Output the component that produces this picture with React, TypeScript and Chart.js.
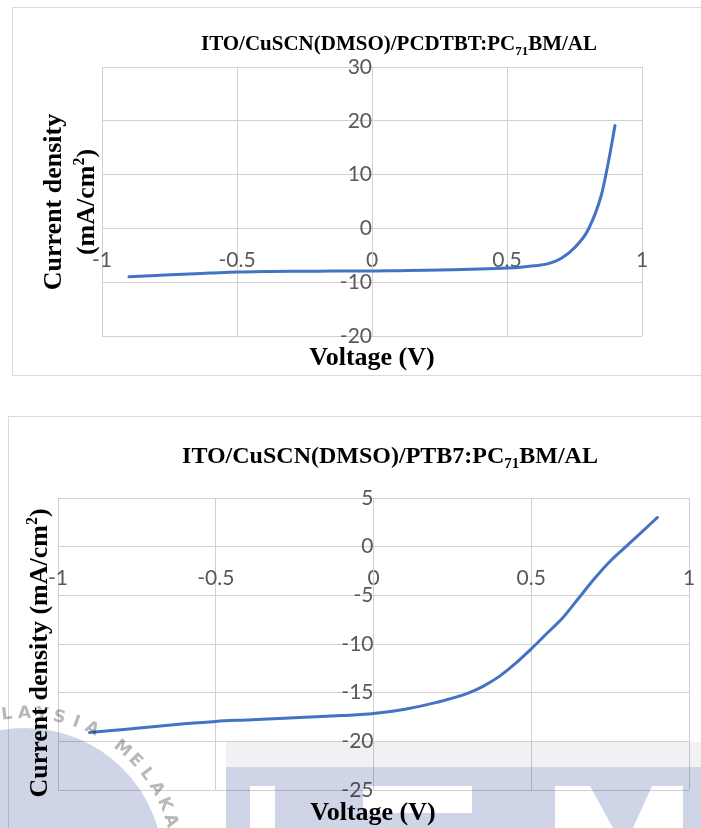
import React, { useEffect, useRef } from "react";
import { Chart, registerables } from "chart.js";

Chart.register(...registerables);

// J–V sweep of ITO/CuSCN(DMSO)/PCDTBT:PC71BM/Al (V, mA/cm²)
const voltagePcdtbt = [-0.9, -0.8, -0.7, -0.6, -0.5, -0.4, -0.3, -0.2, -0.1, 0, 0.1, 0.2, 0.3, 0.4, 0.5, 0.55, 0.6, 0.65, 0.7, 0.75, 0.8, 0.85, 0.875, 0.9];
const currentPcdtbt = [-9.0, -8.75, -8.5, -8.3, -8.1, -8.0, -7.95, -7.95, -7.9, -7.9, -7.85, -7.8, -7.7, -7.55, -7.35, -7.2, -6.95, -6.6, -5.6, -3.6, -0.3, 6.3, 12.2, 19.1];

// J–V sweep of ITO/CuSCN(DMSO)/PTB7:PC71BM/Al (V, mA/cm²)
const voltagePtb7 = [-0.9, -0.8, -0.7, -0.6, -0.5, -0.4, -0.3, -0.2, -0.1, 0, 0.1, 0.2, 0.3, 0.35, 0.4, 0.45, 0.5, 0.55, 0.6, 0.65, 0.7, 0.75, 0.8, 0.85, 0.9];
const currentPtb7 = [-19.1, -18.8, -18.5, -18.2, -17.95, -17.8, -17.65, -17.5, -17.35, -17.15, -16.7, -16.0, -15.05, -14.3, -13.3, -12.0, -10.5, -8.9, -7.3, -5.3, -3.3, -1.5, 0.0, 1.5, 3.0];

const voltageTicks = [-1, -0.5, 0, 0.5, 1];
const currentTicksPcdtbt = [-20, -10, 0, 10, 20, 30];
const currentTicksPtb7 = [-25, -20, -15, -10, -5, 0, 5];

const SERIF = '"Liberation Serif", "Times New Roman", serif';
const TICK_FONT = "Lato";
const LINE_BLUE = "#4472C4";
const GRID = "#d0d0d0";
const FRAME = "#d9d9d9";
const TICK_GREY = "#595959";
const LOGO_BLUE = "#cfd5e6";

type Seg = { text: string; size: number; dy?: number };
type Label = { segs: Seg[]; x: number; y: number; vertical?: boolean };

// Draws a run of bold serif text (with sub/superscripts) centred on (x, y).
function drawRich(ctx: CanvasRenderingContext2D, segs: Seg[], x: number, y: number, vertical = false) {
  ctx.save();
  ctx.translate(x, y);
  if (vertical) ctx.rotate(-Math.PI / 2);
  ctx.fillStyle = "#000";
  ctx.textAlign = "left";
  ctx.textBaseline = "alphabetic";
  const fonts = segs.map((s) => `bold ${s.size}px ${SERIF}`);
  const widths = segs.map((s, i) => {
    ctx.font = fonts[i];
    return ctx.measureText(s.text).width;
  });
  let cx = -widths.reduce((a, b) => a + b, 0) / 2;
  segs.forEach((s, i) => {
    ctx.font = fonts[i];
    ctx.fillText(s.text, cx, s.dy ?? 0);
    cx += widths[i];
  });
  ctx.restore();
}

interface PanelProps {
  left: number;
  top: number;
  boxHeight: number;
  width: number;
  height: number;
  padding: { left: number; top: number; right: number; bottom: number };
  voltages: number[];
  currents: number[];
  yTicks: number[];
  labels: Label[];
}

function JVPanel({ left, top, boxHeight, width, height, padding, voltages, currents, yTicks, labels }: PanelProps) {
  const ref = useRef<HTMLCanvasElement>(null);

  useEffect(() => {
    const canvas = ref.current;
    if (!canvas) return;

    const textPlugin = {
      id: "jvText",
      afterDraw(chart: Chart) {
        labels.forEach((l) => drawRich(chart.ctx, l.segs, l.x, l.y, l.vertical));
      },
    };

    const tickStyle = {
      color: TICK_GREY,
      font: { family: TICK_FONT, size: 21 },
      autoSkip: false,
      maxRotation: 0,
      callback: (v: number | string) => String(v),
    };

    const chart = new Chart(canvas, {
      type: "scatter",
      data: {
        datasets: [
          {
            data: voltages.map((v, i) => ({ x: v, y: currents[i] })),
            showLine: true,
            borderColor: LINE_BLUE,
            backgroundColor: LINE_BLUE,
            borderWidth: 3,
            borderCapStyle: "round",
            borderJoinStyle: "round",
            pointRadius: 0,
            cubicInterpolationMode: "monotone",
            fill: false,
          },
        ],
      },
      options: {
        animation: false,
        responsive: false,
        devicePixelRatio: 1,
        layout: { padding },
        plugins: {
          legend: { display: false },
          tooltip: { enabled: false },
          title: { display: false },
        },
        scales: {
          x: {
            type: "linear",
            position: { y: 0 },
            min: voltageTicks[0],
            max: voltageTicks[voltageTicks.length - 1],
            afterBuildTicks: (s: any) => {
              s.ticks = voltageTicks.map((value) => ({ value }));
            },
            // axis crosses inside the plot, so it takes no room of its own
            afterFit: (s: any) => {
              s.height = 0;
              s.paddingLeft = 0;
              s.paddingRight = 0;
            },
            grid: { color: GRID, lineWidth: 1, drawTicks: false },
            border: { color: GRID, width: 1 },
            ticks: { ...tickStyle, padding: 19 },
          },
          y: {
            type: "linear",
            position: { x: 0 },
            min: yTicks[0],
            max: yTicks[yTicks.length - 1],
            afterBuildTicks: (s: any) => {
              s.ticks = yTicks.map((value) => ({ value }));
            },
            afterFit: (s: any) => {
              s.width = 0;
              s.paddingTop = 0;
              s.paddingBottom = 0;
            },
            grid: { color: GRID, lineWidth: 1, drawTicks: false },
            border: { color: GRID, width: 1 },
            ticks: { ...tickStyle, padding: 20 },
          },
        },
      } as any,
      plugins: [textPlugin],
    });

    return () => chart.destroy();
  }, []);

  return (
    <div
      style={{
        position: "absolute",
        left,
        top,
        width: 760,
        height: boxHeight,
        border: `1px solid ${FRAME}`,
        boxSizing: "border-box",
        background: "#fff",
      }}
    >
      <canvas ref={ref} width={width} height={height} style={{ display: "block" }} />
    </div>
  );
}

// Letters around the ring of the university seal, with their angle from the top.
const sealLetters: [string, number][] = [
  ["M", -20], ["A", -13.4], ["L", -6.8], ["A", -0.2], ["Y", 6.4], ["S", 13], ["I", 19.6], ["A", 26],
  ["M", 39.7], ["E", 46.3], ["L", 52.9], ["A", 59.5], ["K", 66.1], ["A", 72.7],
];

function Seal() {
  const cx = 25;
  const cy = 866;
  return (
    <svg
      width={701}
      height={828}
      style={{ position: "absolute", left: 0, top: 0, mixBlendMode: "multiply", pointerEvents: "none" }}
    >
      <circle cx={cx} cy={cy} r={138} fill={LOGO_BLUE} />
      {sealLetters.map(([ch, a], i) => (
        <text
          key={i}
          x={cx}
          y={cy - 153}
          transform={`rotate(${a} ${cx} ${cy})`}
          textAnchor="middle"
          dominantBaseline="middle"
          fontFamily="DejaVu Sans"
          fontWeight="bold"
          fontSize={17}
          fill="#b8b8b8"
        >
          {ch}
        </text>
      ))}
      <rect x={226} y={742} width={475} height={25} fill="#f1f1f3" />
      <path
        d="M226 767 H701 V828 H226 Z M250 786 H275 V828 H250 Z M363 786 H472 V813 H363 Z M555 786 H683 V828 H555 Z"
        fill={LOGO_BLUE}
        fillRule="evenodd"
      />
      <path d="M590 786 H652 L633 828 H613 Z" fill={LOGO_BLUE} />
    </svg>
  );
}

export default function App() {
  const topLabels: Label[] = [
    {
      segs: [
        { text: "ITO/CuSCN(DMSO)/PCDTBT:PC", size: 21 },
        { text: "71", size: 13, dy: 5 },
        { text: "BM/AL", size: 21 },
      ],
      x: 386,
      y: 42,
    },
    { segs: [{ text: "Voltage (V)", size: 26 }], x: 359, y: 357 },
    { segs: [{ text: "Current density", size: 26 }], x: 48, y: 194, vertical: true },
    {
      segs: [
        { text: "(mA/cm", size: 26 },
        { text: "2", size: 16, dy: -10 },
        { text: ")", size: 26 },
      ],
      x: 81,
      y: 194,
      vertical: true,
    },
  ];

  const bottomLabels: Label[] = [
    {
      segs: [
        { text: "ITO/CuSCN(DMSO)/PTB7:PC", size: 24 },
        { text: "71", size: 15, dy: 5 },
        { text: "BM/AL", size: 24 },
      ],
      x: 381,
      y: 46,
    },
    { segs: [{ text: "Voltage (V)", size: 26 }], x: 364, y: 403 },
    {
      segs: [
        { text: "Current density (mA/cm", size: 26 },
        { text: "2", size: 16, dy: -10 },
        { text: ")", size: 26 },
      ],
      x: 38,
      y: 236,
      vertical: true,
    },
  ];

  return (
    <div
      style={{
        position: "absolute",
        left: 0,
        top: 0,
        width: 701,
        height: 828,
        overflow: "hidden",
        background: "#fff",
      }}
    >
      <JVPanel
        left={12}
        top={7}
        boxHeight={369}
        width={688}
        height={367}
        padding={{ left: 89, top: 59, right: 59, bottom: 39 }}
        voltages={voltagePcdtbt}
        currents={currentPcdtbt}
        yTicks={currentTicksPcdtbt}
        labels={topLabels}
      />
      <JVPanel
        left={8}
        top={416}
        boxHeight={500}
        width={692}
        height={411}
        padding={{ left: 49, top: 81, right: 12, bottom: 38 }}
        voltages={voltagePtb7}
        currents={currentPtb7}
        yTicks={currentTicksPtb7}
        labels={bottomLabels}
      />
      <Seal />
    </div>
  );
}
